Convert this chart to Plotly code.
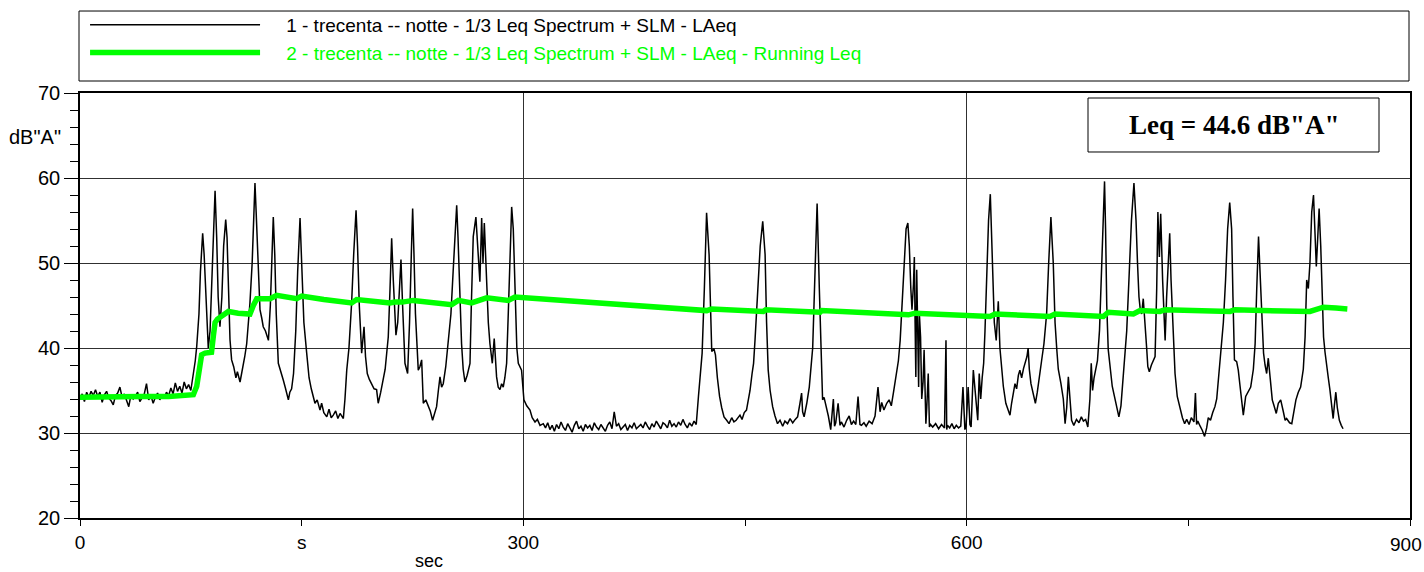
import plotly.graph_objects as go

# ---------------- data ----------------
laeq_t = [
    0, 1.5, 3, 4.5, 6, 7.5, 9, 10.5, 12, 13.5, 15, 16.5, 18, 19.5, 21, 22.5, 24, 25.5, 27, 28.5,
    30, 31.5, 33, 34.5, 36, 37.5, 39, 40.5, 42, 43.5, 45, 46.5, 48, 49.5, 51, 52.5, 54, 55.5, 57, 58.5,
    60, 61.5, 63, 64.5, 66, 67.5, 69, 70.5, 72, 73.5, 75,
    76.5, 78, 79, 80.5, 81.5, 83, 84, 85.5, 86.8, 88, 89.5, 91.4, 92.5, 93.5, 94.7, 96, 97.2, 98.6, 99.5,
    100.5, 101.5, 102.6, 104, 105.5, 106.5, 108.3, 110, 111.5, 112.8, 114, 115, 116.5, 117.5, 118.4, 119.2,
    120, 121, 121.8, 123, 124, 125.5, 127.5, 128.8, 129.8, 130.8, 131.8, 132.8, 134.2, 135.5, 137.6, 139,
    141, 142, 143.2, 144.5, 146, 147.3, 148.9, 150, 151.5, 153.4, 155, 156.5, 157.9, 159, 160.5, 162.4,
    163.5, 165, 167, 168.5, 170, 171.4, 173, 174.5, 176, 178.2, 179.3, 180.5, 182, 183.8, 185.2, 186.8,
    187.8, 189, 190.6, 192.2, 193.2, 194.4, 195.8, 197.4, 199, 200.7, 201.8, 203.5, 205.2, 206.5, 207.6,
    208.6, 209.8, 210.9, 212, 213.8, 215, 216.2, 217.2, 218.3, 219.9, 221.7, 223, 224.2, 225.1, 226, 227,
    228.9, 230, 231.2, 232.3, 234, 235.7, 237, 238.6, 240, 241.3, 242.5, 243.6, 244.7, 245.8, 247.5, 249.2,
    251, 252.5, 254, 254.9, 255.8, 257, 258.2, 259.3, 260.5, 262, 263.9, 264.8, 266.1, 267.9, 269.2, 270.6,
    271.8, 272.7, 273.6, 275.2, 276.3, 277.4, 279, 280.3, 281.9, 283, 284.2, 285.3, 286.4, 287.5, 288.7,
    289.8, 291, 292.1, 293.2, 294.5, 295.6, 296.6, 298.8, 300.4, 302.3, 304.5, 306, 307.9, 309.5, 311.3, 313.5,
    315, 316.5, 318, 319.5, 321, 322.5, 324, 325.5, 327, 328.5, 330, 331.5, 333, 334.5, 336, 337.5, 339,
    340.5, 342, 343.5, 345, 346.5, 348, 349.5, 351, 352.5, 354, 355.5, 357, 358.5, 360, 361.5, 363, 364.5,
    366, 367.5, 369, 370.5, 372, 373.5, 375, 376.5, 378, 379.5, 381, 382.5, 384, 385.5, 387, 388.5, 390,
    391.5, 393, 394.5, 396, 397.5, 399, 400.5, 402, 403.5, 405, 406.5, 408, 409.5, 411, 412.5, 414, 415.5,
    417, 418.5,
    419.6, 421, 422.5, 424, 425.7, 426.6, 427.5, 429, 430, 431.3, 432.8, 434.2, 435.8, 437.6, 439.2, 441,
    442.5, 444, 446.6, 448, 449.5, 451, 453.4, 454.8, 455.8, 456.8, 458.5, 460.3, 462, 463.6, 464.6, 465.7,
    467, 468.7, 470.3, 472, 473.7, 475.5, 477, 478.8, 480.5, 482.3, 484, 485.6, 487.2, 488.3, 489, 490,
    491.8, 493.5, 495.8, 497.3, 498.8, 500.3, 501.5, 502.5, 503.5, 505, 506.4, 508, 509.8, 510.6, 511.4,
    513, 514.3, 515.2, 517, 518.8, 520.5, 522, 523.5, 525, 526.5, 527.8, 528.8, 530.5, 532, 534, 536, 538,
    540, 541.4, 542.5, 544, 545.9, 547.5, 549, 550.5, 552, 553.8, 555, 556, 557.5, 559, 560.2, 561.2, 562.2,
    563, 564, 564.6, 565.1, 565.6, 566.2, 566.9, 567.5, 568, 568.8, 569.6, 570.5, 571.2, 571.8, 572.4, 573,
    574, 574.8, 575.5, 577, 579, 581, 583, 585, 586, 586.5, 587, 588.5, 590, 591.5, 593, 594.5, 596, 597.5,
    598.8, 599.6, 601, 602.2, 603, 604.5, 606.3, 607.5, 608.5, 609.5, 610.5, 611.5, 612.4, 613.6, 614.8,
    616, 616.9, 617.8, 618.7, 620, 621.4, 622.5, 623.5, 624.8, 626.5, 628.2, 629.3, 630.4, 631.5, 632.7,
    633.8, 635, 636, 637.2, 638.5, 639.6, 640.8, 641.6, 642.4, 643.5, 645.1, 646.5, 647.8, 649, 650.7,
    652.3, 654.1, 655.5, 657, 658.6, 659.8, 661, 662, 663.8, 665.4, 666.6, 667.7, 668.8, 669.9, 671, 672.5,
    674.3, 676, 677.6, 679, 680.5, 682, 683.4, 684.3, 685.2, 686.2, 687.3, 688.5, 689.9, 691.3, 692.5,
    693.3, 694.0, 694.8, 695.8, 697, 698.5, 700, 701.5, 703, 704.4, 705.5, 706.8, 708.3, 709.8, 711.5,
    713.2, 714.6, 715.6, 716.6, 717.5, 718.4, 719.5, 720.7, 721.8, 722.6, 723.6, 725, 726.5, 727.5, 728.6,
    729.4, 730.4, 731.3, 732.6, 733.5, 734.3, 735.3, 736.5, 737.4, 738.3, 739.3, 740.2, 741, 742.5, 744.3,
    746, 747.5, 748.9, 750.5, 752, 753.8, 754.8, 755.6, 756.4, 758, 759.5, 761, 762.4, 763.5, 765, 766.5,
    768, 769.2, 770.5, 772, 773.7, 775.2, 776.6, 778, 779.3, 780.2, 781.2, 782.7, 783.8, 785, 786, 787.2,
    788.8, 790.6, 792.2, 794, 795.2, 796.3, 797.5, 799, 800, 800.9, 801.9, 803, 804.1, 805.7, 806.8, 808,
    809.5, 810.9, 812.5, 814.3, 815.5, 816.5, 818.5, 820, 821.1, 822.8, 824.4, 826, 827.8, 829, 830.1,
    831.2, 832.3, 833.5, 834.7, 835.7, 836.6, 837.3, 838.5, 839.6, 840.6, 841.5, 842.5, 843.5, 844.7,
    845.8, 847, 848, 848.8, 849.8, 850.8, 851.5, 852.2, 853.5, 854.7, 856,
]
laeq_db = [
    34.0, 34.6, 33.7, 34.8, 34.2, 34.9, 34.4, 35.1, 34.3, 34.8, 33.6, 34.5, 34.9, 34.1, 33.8, 33.3, 34.4, 34.7, 35.4, 34.2,
    34.6, 33.9, 33.1, 34.5, 34.0, 34.3, 34.8, 33.7, 34.1, 34.6, 35.8, 33.9, 34.4, 33.5, 34.2, 34.7, 33.9, 34.5, 34.1, 34.8,
    34.4, 35.3, 34.6, 35.9, 34.9, 35.5, 34.7, 36.0, 35.2, 35.7, 35.0,
    36.5, 38.5, 40.2, 44.0, 49.0, 53.5, 51.0, 44.0, 40.0, 42.0, 50.0, 58.5, 53.0, 46.0, 42.5, 46.0, 52.0, 55.1, 53.0,
    46.0, 41.0, 38.6, 37.8, 36.5, 37.2, 36.0, 37.5, 39.0, 40.5, 43.0, 45.3, 50.0, 56.0, 59.4, 56.0,
    52.0, 47.0, 44.5, 43.5, 42.5, 42.0, 40.9, 45.0, 51.0, 55.4, 51.0, 44.0, 38.2, 37.5, 36.2, 35.3,
    33.9, 34.8, 35.2, 37.0, 42.0, 49.0, 55.3, 50.0, 43.0, 39.4, 36.5, 35.2, 34.3, 33.5, 33.9, 32.7,
    33.5, 32.4, 31.9, 32.8, 31.8, 32.1, 32.6, 31.7, 32.3, 31.7, 34.0, 37.4, 40.0, 45.3, 51.0, 56.2,
    52.0, 45.0, 39.4, 42.5, 39.0, 37.0, 36.3, 35.8, 35.2, 35.1, 33.5, 34.8, 36.2, 37.5, 39.5,
    41.3, 47.0, 52.9, 48.0, 41.5, 43.0, 47.5, 50.4, 45.0, 38.2, 37.0, 43.0, 51.0, 56.4, 51.0, 44.0,
    37.4, 37.8, 38.6, 33.5, 33.9, 33.1, 32.6, 31.5, 32.4, 33.1, 35.0, 36.6, 35.4, 35.8, 37.8, 40.5,
    44.0, 49.0, 54.5, 56.8, 53.0, 46.0, 40.5, 37.5, 36.0, 36.8, 38.2, 45.0, 53.1, 55.4, 52.0, 47.8,
    55.3, 50.0, 54.7, 47.2, 43.0, 40.5, 38.2, 41.1, 36.6, 35.4, 35.1, 35.8, 35.4, 36.5, 38.2,
    44.0, 52.0, 56.6, 54.0, 47.0, 40.0, 38.2, 37.4, 33.9, 33.2, 32.7, 31.8, 31.3, 31.6, 30.9, 31.1,
    30.6, 31.2, 30.4, 30.9, 30.2, 31.0, 30.5, 31.3, 30.7, 30.3, 31.1, 30.6, 30.1, 30.9, 31.4, 30.5, 30.8,
    30.2, 31.0, 30.6, 30.9, 30.3, 31.2, 30.7, 30.4, 31.0, 30.6, 30.2, 30.9, 31.3, 30.5, 32.5, 30.8, 31.1,
    30.4, 30.7, 31.0, 30.3, 30.9, 30.6, 31.2, 30.5, 30.8, 31.0, 30.6, 31.3, 30.8, 30.4, 31.1, 30.7, 31.4,
    30.9, 30.5, 31.2, 31.0, 30.6, 31.5, 30.8, 31.1, 30.7, 31.3, 30.9, 31.6, 31.0, 30.6, 31.2, 30.8,
    31.4, 31.0,
    34.3, 36.5, 39.4, 47.0, 55.9, 51.0, 46.0, 39.6, 39.9, 39.2, 36.5, 34.3, 33.0, 31.9, 31.5, 31.1,
    31.8, 31.3, 31.5, 32.1, 31.6, 32.4, 32.7, 35.0, 37.0, 38.2, 41.0, 46.0, 52.0, 54.9, 51.0, 43.0,
    37.4, 35.0, 33.1, 32.0, 31.1, 31.5, 30.8, 31.4, 31.1, 31.7, 31.2, 31.6, 31.9, 33.5, 34.7, 32.5,
    31.9, 33.5, 35.4, 40.0, 50.0, 57.0, 47.0, 38.0, 33.9, 34.2, 33.1, 32.0, 30.4, 34.0, 30.8,
    31.2, 33.5, 30.9, 31.3, 30.7, 31.5, 32.0, 31.0, 31.4, 31.0, 34.3, 31.0, 30.9, 31.2, 30.8, 31.4, 31.1,
    32.0, 35.4, 32.5, 33.6, 32.7, 33.5, 33.9, 33.2, 34.8, 36.6, 38.5, 40.9, 44.0, 50.0, 54.0, 54.7, 52.0,
    47.0, 44.5, 47.5, 50.7, 43.0, 36.6, 49.2, 41.0, 35.4, 44.0, 41.3, 34.0, 36.0, 39.8, 33.0, 31.1,
    33.0, 37.0, 30.7, 31.0, 30.7, 31.1, 30.5, 31.0, 30.6, 40.9, 30.4, 30.9, 30.6, 31.1, 30.5, 30.9, 30.6, 30.8,
    35.4, 30.4, 30.8, 35.4, 31.0, 30.7, 37.4, 33.5, 31.5, 37.0, 34.0, 36.5, 38.2, 42.0, 48.0,
    55.0, 58.1, 52.0, 46.4, 43.0, 40.9, 45.5, 40.0, 38.2, 35.5, 33.5, 32.5, 32.1, 33.5, 34.5,
    35.8, 35.2, 36.8, 37.4, 36.5, 37.6, 38.2, 39.0, 40.0, 37.5, 35.8, 34.5, 33.5, 34.8, 36.6,
    38.5, 40.5, 44.0, 50.0, 55.4, 50.0, 43.0, 39.8, 37.5, 35.8, 34.0, 31.1, 33.0, 36.6, 33.5, 31.5,
    30.9, 31.6, 31.2, 31.9, 31.4, 31.6, 30.7, 34.0, 38.2, 35.0, 36.5, 37.4, 38.5, 42.1, 50.0,
    56.0, 59.6, 54.0, 45.0, 39.8, 37.5, 35.5, 34.3, 33.0, 31.9, 33.2, 35.5, 38.6, 42.0, 48.0,
    55.0, 59.4, 55.0, 50.0, 46.0, 44.5, 44.0, 45.8, 43.3, 40.0, 37.8, 37.2, 38.0, 38.5, 39.0,
    47.0, 56.0, 50.7, 55.8, 48.0, 43.0, 40.9, 46.0, 50.0, 53.5, 48.0, 43.0, 40.9, 37.0, 34.3,
    33.0, 31.8, 31.1, 31.6, 31.0, 31.8, 31.3, 34.7, 31.0, 31.4, 30.8, 30.3, 29.6, 30.6, 31.8, 31.5,
    32.4, 33.1, 34.0, 36.5, 39.8, 43.0, 48.0, 54.0, 57.1, 54.0, 46.0, 38.6, 38.4, 37.4, 35.5, 33.5,
    32.1, 34.3, 34.9, 35.4, 37.5, 40.5, 47.0, 53.1, 47.0, 42.0, 39.4, 38.0, 37.0, 38.8, 36.0, 33.9,
    33.2, 32.3, 33.5, 33.9, 32.5, 31.5, 31.7, 31.2, 31.1, 32.2, 33.9, 34.8, 35.4, 37.5, 41.3,
    48.0, 47.0, 50.0, 56.0, 58.0, 54.0, 49.6, 52.0, 56.4, 52.0, 45.0, 41.3, 39.5, 37.8,
    36.5, 35.1, 33.5, 31.7, 33.2, 34.8, 33.0, 31.9, 31.5, 30.9, 30.5,
]

running_t = [
    0, 20, 40, 60, 76.7, 79, 81, 82.3, 84.6, 89, 90.3, 91.4, 93, 97, 100.4, 107, 115, 117.3, 119.6,
    128.6, 133.1, 146.6, 150, 165, 183.8, 187.2, 196, 209.7, 213, 218, 225.5, 251.5, 256, 265, 275.2,
    289.8, 294.3, 330, 360, 399.2, 424.1, 427.5, 462.4, 464, 500.8, 502, 530, 560.6, 565.1, 595.5,
    615.8, 619.2, 656.4, 659.8, 692.5, 695.8, 712.8, 717.3, 730.8, 734.2, 760, 778.2, 781.6, 791.7,
    800, 832.3, 841.4, 850, 857.6,
]
running_db = [
    34.2, 34.3, 34.3, 34.3, 34.5, 35.5, 37.5, 39.2, 39.4, 39.5, 41.5, 43.0, 43.4, 43.8, 44.3, 44.1, 44.0, 45.0, 45.8,
    45.8, 46.2, 45.8, 46.1, 45.7, 45.3, 45.7, 45.5, 45.3, 45.4, 45.4, 45.6, 45.1, 45.6, 45.3, 45.9,
    45.6, 46.0, 45.6, 45.2, 44.7, 44.4, 44.6, 44.3, 44.5, 44.2, 44.4, 44.2, 43.9, 44.1, 43.8,
    43.7, 44.0, 43.7, 44.0, 43.7, 44.2, 44.0, 44.4, 44.3, 44.5, 44.4, 44.3, 44.5, 44.5,
    44.4, 44.3, 44.8, 44.7, 44.6,
]

series_names = [
    "1 - trecenta -- notte - 1/3 Leq Spectrum + SLM - LAeq",
    "2 - trecenta -- notte - 1/3 Leq Spectrum + SLM - LAeq - Running Leq",
]
x_tickvals = [0, 300, 600, 900]
x_ticktext = ["0", "300", "600", ""]
x_last_label = "900"
x_mid_label = "s"
leq_text = 'Leq = 44.6 dB"A"'
y_title = 'dB"A"'
x_title = "sec"

GREEN = "#00ff00"
FONT = "Arial, Liberation Sans, sans-serif"
PAD = "\u00a0" * 4  # gap between legend sample line and its text

fig = go.Figure()
fig.add_trace(go.Scatter(
    x=laeq_t, y=laeq_db, mode="lines", name=PAD + series_names[0],
    line=dict(color="black", width=1.5),
))
fig.add_trace(go.Scatter(
    x=running_t, y=running_db, mode="lines",
    name='%s<span style="color:%s">%s</span>' % (PAD, GREEN, series_names[1]),
    line=dict(color=GREEN, width=5.5),
))

fig.update_layout(
    width=1424, height=572,
    margin=dict(l=80, r=14, t=93, b=54, autoexpand=False),
    paper_bgcolor="white", plot_bgcolor="white",
    font=dict(family=FONT, size=19, color="black"),
    showlegend=True,
    legend=dict(
        x=0.0038, y=1.2047, xanchor="left", yanchor="top",
        bgcolor="rgba(0,0,0,0)", borderwidth=0,
        itemwidth=170, font=dict(size=19, family=FONT, color="black"),
        traceorder="normal",
    ),
    xaxis=dict(
        range=[0, 900], tickvals=x_tickvals, ticktext=x_ticktext,
        ticks="outside", ticklen=6, tickcolor="black", tickwidth=1,
        showgrid=True, gridcolor="#303030", gridwidth=1,
        showline=True, linecolor="black", linewidth=1.5, mirror=True,
        zeroline=False, tickfont=dict(size=19, family=FONT),
        automargin=False,
        minor=dict(dtick=150, tick0=0, ticks="outside", ticklen=6, tickcolor="black", showgrid=False),
    ),
    yaxis=dict(
        range=[20, 70], dtick=10, tick0=0,
        ticks="outside", ticklen=14, tickcolor="black", tickwidth=1,
        showgrid=True, gridcolor="#303030", gridwidth=1,
        showline=True, linecolor="black", linewidth=1.5, mirror=True,
        zeroline=False, tickfont=dict(size=20, family=FONT), automargin=False,
        minor=dict(dtick=2, tick0=0, ticks="outside", ticklen=8, tickcolor="black", showgrid=False),
    ),
    shapes=[
        dict(type="rect", xref="paper", yref="paper", x0=-0.00075, x1=0.99925, y0=1.0282, y1=1.1929,
             line=dict(color="black", width=1), fillcolor="rgba(0,0,0,0)", layer="above"),
        dict(type="rect", xref="paper", yref="paper", x0=0.7579, x1=0.9767, y0=0.8612, y1=0.9882,
             line=dict(color="black", width=1), fillcolor="white", layer="above"),
    ],
    annotations=[
        dict(text="<b>" + leq_text + "</b>", xref="paper", yref="paper", x=0.8673, y=0.9247,
             xanchor="center", yanchor="middle", showarrow=False,
             font=dict(family="Times New Roman, Liberation Serif, serif", size=27, color="black")),
        dict(text=y_title, xref="paper", yref="paper", x=-0.0128, y=0.897,
             xanchor="right", yanchor="middle", showarrow=False, font=dict(size=20, family=FONT)),
        dict(text=x_title, xref="paper", yref="paper", x=0.2624, y=-0.102,
             xanchor="center", yanchor="middle", showarrow=False, font=dict(size=18, family=FONT)),
        dict(text=x_mid_label, xref="x", yref="paper", x=150, y=-0.057,
             xanchor="center", yanchor="middle", showarrow=False, font=dict(size=19, family=FONT)),
        dict(text=x_last_label, xref="x", yref="paper", x=900, y=-0.062, xshift=14,
             xanchor="right", yanchor="middle", showarrow=False, font=dict(size=19, family=FONT)),
    ],
)

fig.write_html("out.html")
